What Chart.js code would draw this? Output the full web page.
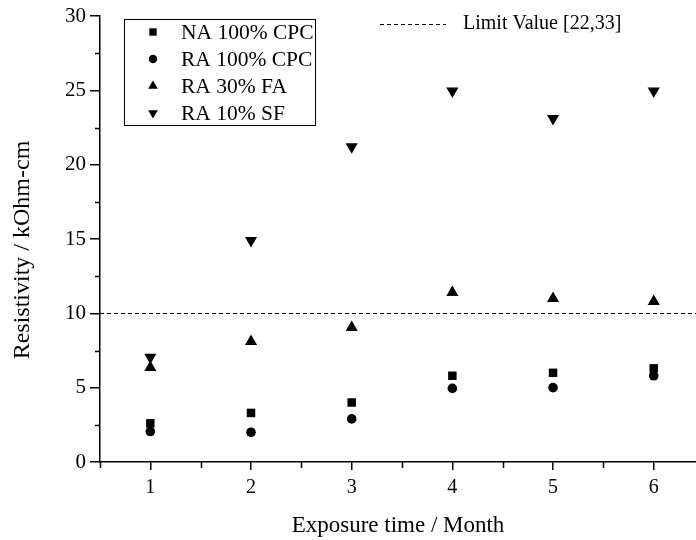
<!DOCTYPE html>
<html>
<head>
<meta charset="utf-8">
<script src="https://cdn.jsdelivr.net/npm/chart.js@4/dist/chart.umd.min.js"></script>
<style>
  html, body { margin:0; padding:0; background:#fff; }
  #c { display:block; }
</style>
</head>
<body>
<canvas id="c" width="696" height="540"></canvas>
<script>
// valores
const months    = [1, 2, 3, 4, 5, 6];
const naCpc     = [2.6, 3.3, 4.0, 5.8, 6.0, 6.3];
const raCpc     = [2.05, 2.0, 2.9, 4.95, 5.0, 5.8];
const ra30Fa    = [6.35, 8.1, 9.05, 11.4, 11.0, 10.8];
const ra10Sf    = [7.05, 14.9, 21.2, 24.95, 23.1, 24.95];
const limitValue = 10;
const yTicks    = [0, 5, 10, 15, 20, 25, 30];

const SERIES = [
  {label:'NA 100% CPC', data:naCpc,  style:'rect',     r:6,   lr:5.2, rot:0},
  {label:'RA 100% CPC', data:raCpc,  style:'circle',   r:4.8, lr:4.2, rot:0},
  {label:'RA 30% FA',   data:ra30Fa, style:'triangle', r:7,   lr:5.6, rot:0},
  {label:'RA 10% SF',   data:ra10Sf, style:'triangle', r:7,   lr:5.6, rot:180}
];
const FONT = "'Liberation Serif', 'Times New Roman', serif";

const extras = {
  id:'extras',
  afterDraw(chart) {
    const {ctx, chartArea:a, scales:{x, y}} = chart;
    ctx.save();
    ctx.strokeStyle = '#000';
    ctx.lineWidth = 1.5;
    // ticks menores
    ctx.beginPath();
    for (let v = 2.5; v < 30; v += 5) {
      const py = Math.round(y.getPixelForValue(v)) + 0.5;
      ctx.moveTo(a.left - 5, py); ctx.lineTo(a.left, py);
    }
    for (let v = 0.5; v < 6.5; v += 1) {
      const px = Math.round(x.getPixelForValue(v)) + 0.5;
      ctx.moveTo(px, a.bottom); ctx.lineTo(px, a.bottom + 6);
    }
    ctx.stroke();
    // línea límite
    const ly = Math.round(y.getPixelForValue(limitValue)) + 0.5;
    ctx.lineWidth = 1;
    ctx.setLineDash([4, 3]);
    ctx.beginPath();
    ctx.moveTo(a.left, ly); ctx.lineTo(a.right, ly);
    ctx.moveTo(380, 24.5); ctx.lineTo(446, 24.5);
    ctx.stroke();
    ctx.setLineDash([]);
    // leyenda
    ctx.fillStyle = '#000';
    ctx.font = '20px ' + FONT;
    ctx.textBaseline = 'middle';
    ctx.fillText('Limit Value [22,33]', 463, 24);
    ctx.lineWidth = 1;
    ctx.strokeRect(124.5, 19.5, 191, 106);
    ctx.font = '21.5px ' + FONT;
    SERIES.forEach((s, i) => {
      const cy = 32 + i * 27;
      Chart.helpers.drawPoint(ctx, {pointStyle:s.style, radius:s.lr, rotation:s.rot, borderWidth:0}, 153, cy);
      ctx.fillText(s.label, 181, cy + 1);
    });
    // título eje y
    ctx.font = '24px ' + FONT;
    ctx.textAlign = 'center';
    ctx.translate(23, 250);
    ctx.rotate(-Math.PI / 2);
    ctx.fillText('Resistivity / kOhm-cm', 0, 0);
    ctx.restore();
  }
};

new Chart(document.getElementById('c'), {
  type:'scatter',
  data:{
    datasets:SERIES.map(s => ({
      label:s.label,
      data:months.map((m, i) => ({x:m, y:s.data[i]})),
      pointStyle:s.style,
      pointRadius:s.r,
      rotation:s.rot,
      backgroundColor:'#000',
      borderColor:'#000',
      borderWidth:0
    }))
  },
  options:{
    responsive:false,
    animation:false,
    devicePixelRatio:1,
    layout:{autoPadding:false, padding:{top:16, right:0, left:0, bottom:0}},
    plugins:{legend:{display:false}, tooltip:{enabled:false}},
    scales:{
      x:{
        type:'linear', min:0.5, max:6.42,
        afterBuildTicks:s => { s.ticks = months.map(v => ({value:v})); },
        afterFit:s => { s.height = 78; s.paddingLeft = 0; s.paddingRight = 0; },
        grid:{drawOnChartArea:false, drawTicks:true, tickLength:8, color:'#000', lineWidth:1.5},
        border:{display:true, color:'#000', width:1.5},
        ticks:{color:'#000', font:{family:FONT, size:20}, padding:6, maxRotation:0},
        title:{display:true, text:'Exposure time / Month', color:'#000', font:{family:FONT, size:23}, padding:{top:0, bottom:0}}
      },
      y:{
        min:0, max:30,
        afterBuildTicks:s => { s.ticks = yTicks.map(v => ({value:v})); },
        afterFit:s => { s.width = 100; s.paddingTop = 0; s.paddingBottom = 0; },
        grid:{drawOnChartArea:false, drawTicks:true, tickLength:10, color:'#000', lineWidth:1.5},
        border:{display:true, color:'#000', width:1.5},
        ticks:{color:'#000', font:{family:FONT, size:21}, padding:4}
      }
    }
  },
  plugins:[extras]
});
</script>
</body>
</html>
